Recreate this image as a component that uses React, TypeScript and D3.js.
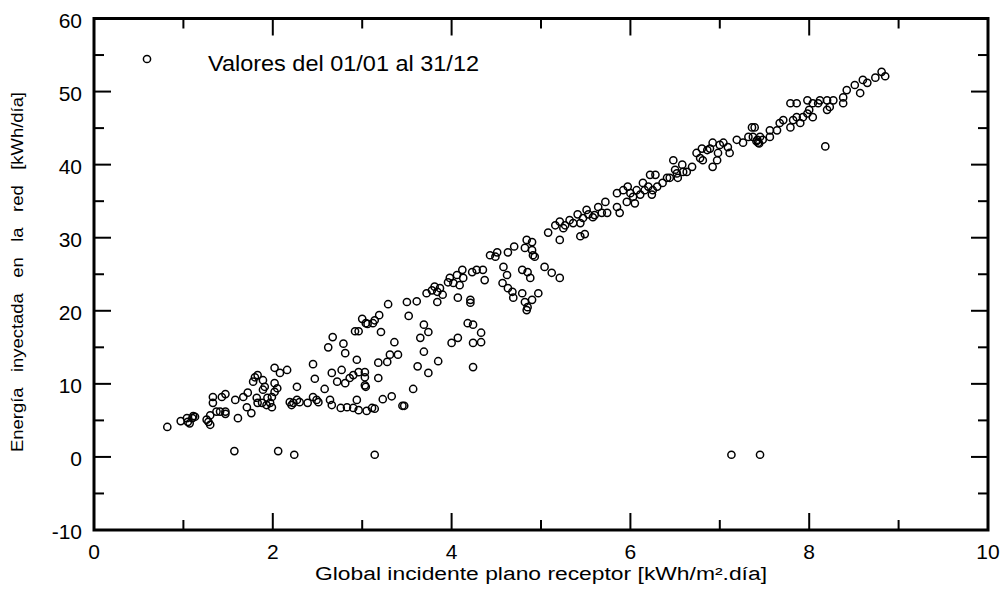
import React, { useEffect, useRef } from 'react';
import * as d3 from 'd3';

type Pt = [number, number];

const xTicks = [0, 2, 4, 6, 8, 10];
const xMinorTicks = [1, 3, 5, 7, 9];
const yTicks = [-10, 0, 10, 20, 30, 40, 50, 60];
const yMinorTicks = [-5, 5, 15, 25, 35, 45, 55];

const legendLabel = 'Valores del 01/01 al 31/12';
const xTitle = 'Global incidente plano receptor [kWh/m².día]';
const yTitle = 'Energía inyectada en la red [kWh/día]';

// días de baja radiación (invierno)
const lowCluster: Pt[] = [
  [0.82, 4.1], [0.97, 4.9], [1.04, 5.3], [1.05, 4.8], [1.07, 4.6], [1.1, 5.3], [1.13, 5.5], [1.11, 5.6],
  [1.26, 5.1], [1.28, 4.8], [1.3, 4.4], [1.3, 5.7], [1.33, 7.4], [1.33, 8.2], [1.37, 6.2], [1.41, 6.2],
  [1.43, 8.2], [1.47, 8.6], [1.47, 6.2], [1.47, 5.9], [1.58, 7.8], [1.61, 5.3], [1.67, 8.2], [1.71, 6.8],
  [1.72, 8.8], [1.76, 6.0], [1.78, 10.3], [1.8, 10.9], [1.83, 11.2], [1.82, 8.1], [1.83, 7.4], [1.88, 7.4],
  [1.89, 10.5], [1.89, 9.2], [1.91, 9.6], [1.93, 7.1], [1.94, 8.1], [1.97, 7.4], [1.99, 6.8], [1.99, 8.2],
  [2.02, 12.2], [2.02, 10.1], [2.05, 9.4], [2.02, 8.9], [2.08, 11.5], [2.16, 11.9], [2.19, 7.5], [2.21, 7.1],
  [2.23, 7.4], [2.27, 7.8], [2.3, 7.5], [2.27, 9.6], [2.39, 7.4], [2.45, 8.2], [2.49, 7.8], [2.51, 7.5],
  [2.58, 9.3], [2.45, 12.7], [2.47, 10.7],
];

// nube dispersa intermedia
const midScatter: Pt[] = [
  [2.62, 15.0], [2.67, 16.4], [2.79, 15.5], [2.81, 14.2], [2.64, 7.8], [2.66, 7.1], [2.76, 6.7], [2.83, 6.8],
  [2.9, 6.7], [2.94, 7.8], [2.96, 6.4], [3.05, 6.3], [3.11, 6.7], [3.14, 6.6], [2.66, 11.5], [2.77, 11.9],
  [2.72, 10.3], [2.81, 10.1], [2.86, 10.8], [2.9, 11.2], [2.94, 13.3], [2.96, 11.6], [3.03, 11.6], [3.03, 10.9],
  [3.03, 9.8], [3.04, 9.6], [3.18, 12.9], [3.18, 10.8], [3.23, 7.9], [3.28, 13.0], [3.31, 14.0], [3.36, 15.7],
  [3.4, 14.0], [3.33, 8.3], [3.45, 7.0], [3.47, 7.0], [3.57, 9.3], [3.62, 12.4], [3.65, 16.3], [3.69, 14.4],
  [3.74, 11.5], [3.69, 18.1], [3.74, 17.1], [3.85, 13.1], [4.0, 15.6], [4.07, 16.3], [4.18, 18.3], [4.24, 18.1],
  [4.33, 17.0], [4.24, 15.6], [4.33, 15.7], [4.24, 12.3],
  [2.92, 17.2], [2.96, 17.2], [3.0, 18.9], [3.04, 18.3], [3.06, 18.2], [3.14, 18.7], [3.19, 19.4], [3.12, 18.3],
  [3.21, 17.1], [3.29, 20.9], [3.5, 21.2], [3.61, 21.3], [3.52, 19.3], [3.72, 22.4], [3.78, 22.8], [3.81, 23.3],
  [3.84, 22.6], [3.87, 23.1], [3.9, 22.2], [3.84, 21.2], [3.96, 23.9], [3.98, 24.5], [4.02, 23.8], [4.06, 24.9],
  [4.12, 25.6], [4.13, 24.5], [4.09, 23.5], [4.07, 21.8], [4.21, 21.5], [4.21, 21.1], [4.23, 25.3], [4.28, 25.6],
  [4.35, 25.6], [4.37, 24.2],
  [4.43, 27.6], [4.49, 27.4], [4.51, 28.0], [4.58, 26.0], [4.57, 23.8], [4.62, 24.9], [4.63, 23.1], [4.68, 22.6],
  [4.69, 21.8], [4.79, 25.6], [4.85, 25.3], [4.88, 24.5], [4.79, 22.4], [4.82, 21.2], [4.85, 20.5], [4.84, 20.1],
  [4.9, 21.5], [4.97, 22.4], [4.91, 27.6], [4.84, 29.7], [4.9, 29.4], [4.82, 28.6], [4.9, 28.3], [4.93, 27.4],
  [5.04, 26.0], [5.12, 25.2], [5.21, 24.5], [4.63, 28.0], [4.7, 28.8],
];

// días claros, banda principal
const mainBand: Pt[] = [
  [5.08, 30.7], [5.16, 31.7], [5.21, 32.2], [5.25, 31.3], [5.27, 31.7], [5.21, 29.7], [5.32, 32.4], [5.36, 32.0],
  [5.41, 33.2], [5.44, 32.0], [5.47, 32.7], [5.44, 30.2], [5.49, 30.5], [5.51, 33.8], [5.53, 33.2], [5.58, 32.8],
  [5.6, 33.1], [5.64, 34.2], [5.68, 33.4], [5.72, 34.9], [5.74, 33.4], [5.85, 34.2], [5.88, 33.4], [5.85, 36.1],
  [5.92, 36.5], [5.97, 37.0], [6.0, 36.1], [5.96, 34.9], [6.03, 35.6], [6.05, 34.7], [6.07, 36.5], [6.11, 35.9],
  [6.14, 37.5], [6.16, 36.5], [6.2, 37.0], [6.22, 38.6], [6.28, 38.6], [6.24, 35.9], [6.25, 36.5], [6.3, 37.0],
  [6.36, 37.5], [6.41, 38.2], [6.44, 38.2], [6.48, 40.6], [6.5, 39.3], [6.52, 38.8], [6.53, 38.2], [6.58, 40.0],
  [6.59, 39.0], [6.63, 39.0], [6.69, 39.7], [6.74, 41.6], [6.78, 40.9], [6.81, 40.6], [6.8, 42.2], [6.86, 42.0],
  [6.89, 42.2], [6.92, 39.7], [6.97, 40.6], [6.98, 41.6], [6.92, 43.0], [7.0, 42.7], [7.04, 43.0], [7.09, 42.4],
  [7.11, 41.6], [7.19, 43.4], [7.26, 43.0], [7.32, 43.8], [7.36, 45.1], [7.39, 45.1], [7.37, 43.8], [7.42, 43.4],
  [7.45, 43.8], [7.48, 43.4], [7.43, 43.0], [7.44, 42.9], [7.41, 43.2], [7.56, 43.8], [7.56, 44.7], [7.64, 44.7],
  [7.67, 45.7], [7.71, 46.1], [7.79, 45.1], [7.82, 46.1], [7.86, 46.5], [7.9, 45.7], [7.93, 46.5], [7.98, 47.0],
  [8.0, 47.5], [8.04, 46.5], [7.79, 48.4], [7.86, 48.4], [7.98, 48.8], [8.04, 48.4], [8.1, 48.4], [8.12, 48.8],
  [8.2, 48.8], [8.23, 47.9], [8.2, 47.5], [8.27, 48.8], [8.38, 48.4], [8.38, 49.2], [8.42, 50.2], [8.51, 50.9],
  [8.57, 49.8], [8.6, 51.6], [8.65, 51.2], [8.74, 51.9], [8.81, 52.7], [8.85, 52.1], [8.18, 42.5],
];

// días sin inyección
const zeroDays: Pt[] = [
  [1.57, 0.8], [2.06, 0.8], [2.24, 0.3], [3.14, 0.3], [7.13, 0.3], [7.45, 0.3],
];

const allPoints: Pt[] = [...lowCluster, ...midScatter, ...mainBand, ...zeroDays];

const App: React.FC = () => {
  const svgRef = useRef<SVGSVGElement>(null);

  useEffect(() => {
    const svg = d3.select(svgRef.current);
    svg.selectAll('*').remove();

    const font = '"Liberation Sans", Arial, sans-serif';
    const x = d3.scaleLinear().domain([0, 10]).range([94, 988]);
    const y = d3.scaleLinear().domain([-10, 60]).range([530, 18.5]);
    const [x0, x1] = x.range();
    const [y0, y1] = y.range();

    // ticks hacia dentro en los cuatro lados
    const tickGroup = svg.append('g').attr('stroke', '#000').attr('stroke-width', 2);
    const addX = (vals: number[], len: number) => {
      vals.forEach(v => {
        tickGroup.append('line').attr('x1', x(v)).attr('x2', x(v)).attr('y1', y0).attr('y2', y0 - len);
        tickGroup.append('line').attr('x1', x(v)).attr('x2', x(v)).attr('y1', y1).attr('y2', y1 + len);
      });
    };
    const addY = (vals: number[], len: number) => {
      vals.forEach(v => {
        tickGroup.append('line').attr('y1', y(v)).attr('y2', y(v)).attr('x1', x0).attr('x2', x0 + len);
        tickGroup.append('line').attr('y1', y(v)).attr('y2', y(v)).attr('x1', x1).attr('x2', x1 - len);
      });
    };
    addX(xTicks, 17);
    addX(xMinorTicks, 10);
    addY(yTicks, 17);
    addY(yMinorTicks, 10);

    // marco
    svg.append('rect')
      .attr('x', x0).attr('y', y1)
      .attr('width', x1 - x0).attr('height', y0 - y1)
      .attr('fill', 'none').attr('stroke', '#000').attr('stroke-width', 3);

    // etiquetas de los ejes
    svg.append('g').selectAll('text')
      .data(xTicks).enter().append('text')
      .attr('x', d => x(d)).attr('y', 559)
      .attr('text-anchor', 'middle')
      .style('font-family', font).style('font-size', '21px')
      .text(d => String(d));

    svg.append('g').selectAll('text')
      .data(yTicks).enter().append('text')
      .attr('x', 82).attr('y', d => y(d) + 9)
      .attr('text-anchor', 'end')
      .style('font-family', font).style('font-size', '21px')
      .text(d => String(d));

    svg.append('text')
      .attr('x', 541).attr('y', 580)
      .attr('text-anchor', 'middle')
      .attr('textLength', 452).attr('lengthAdjust', 'spacingAndGlyphs')
      .style('font-family', font).style('font-size', '18px')
      .text(xTitle);

    svg.append('text')
      .attr('transform', 'translate(23,272) rotate(-90)')
      .attr('text-anchor', 'middle')
      .attr('textLength', 360).attr('lengthAdjust', 'spacingAndGlyphs')
      .style('font-family', font).style('font-size', '16px')
      .style('word-spacing', '9px')
      .text(yTitle);

    // puntos
    svg.append('g').selectAll('circle')
      .data(allPoints).enter().append('circle')
      .attr('cx', d => x(d[0])).attr('cy', d => y(d[1]))
      .attr('r', 3.6)
      .attr('fill', 'none').attr('stroke', '#000').attr('stroke-width', 1.5);

    // leyenda
    svg.append('circle')
      .attr('cx', 147).attr('cy', 59).attr('r', 3.6)
      .attr('fill', 'none').attr('stroke', '#000').attr('stroke-width', 1.5);
    svg.append('text')
      .attr('x', 208).attr('y', 71)
      .attr('textLength', 271).attr('lengthAdjust', 'spacingAndGlyphs')
      .style('font-family', font).style('font-size', '22px')
      .text(legendLabel);
  }, []);

  return (
    <svg
      ref={svgRef}
      width={1003}
      height={597}
      style={{ position: 'absolute', left: 0, top: 0, background: '#fff' }}
    />
  );
};

export default App;
